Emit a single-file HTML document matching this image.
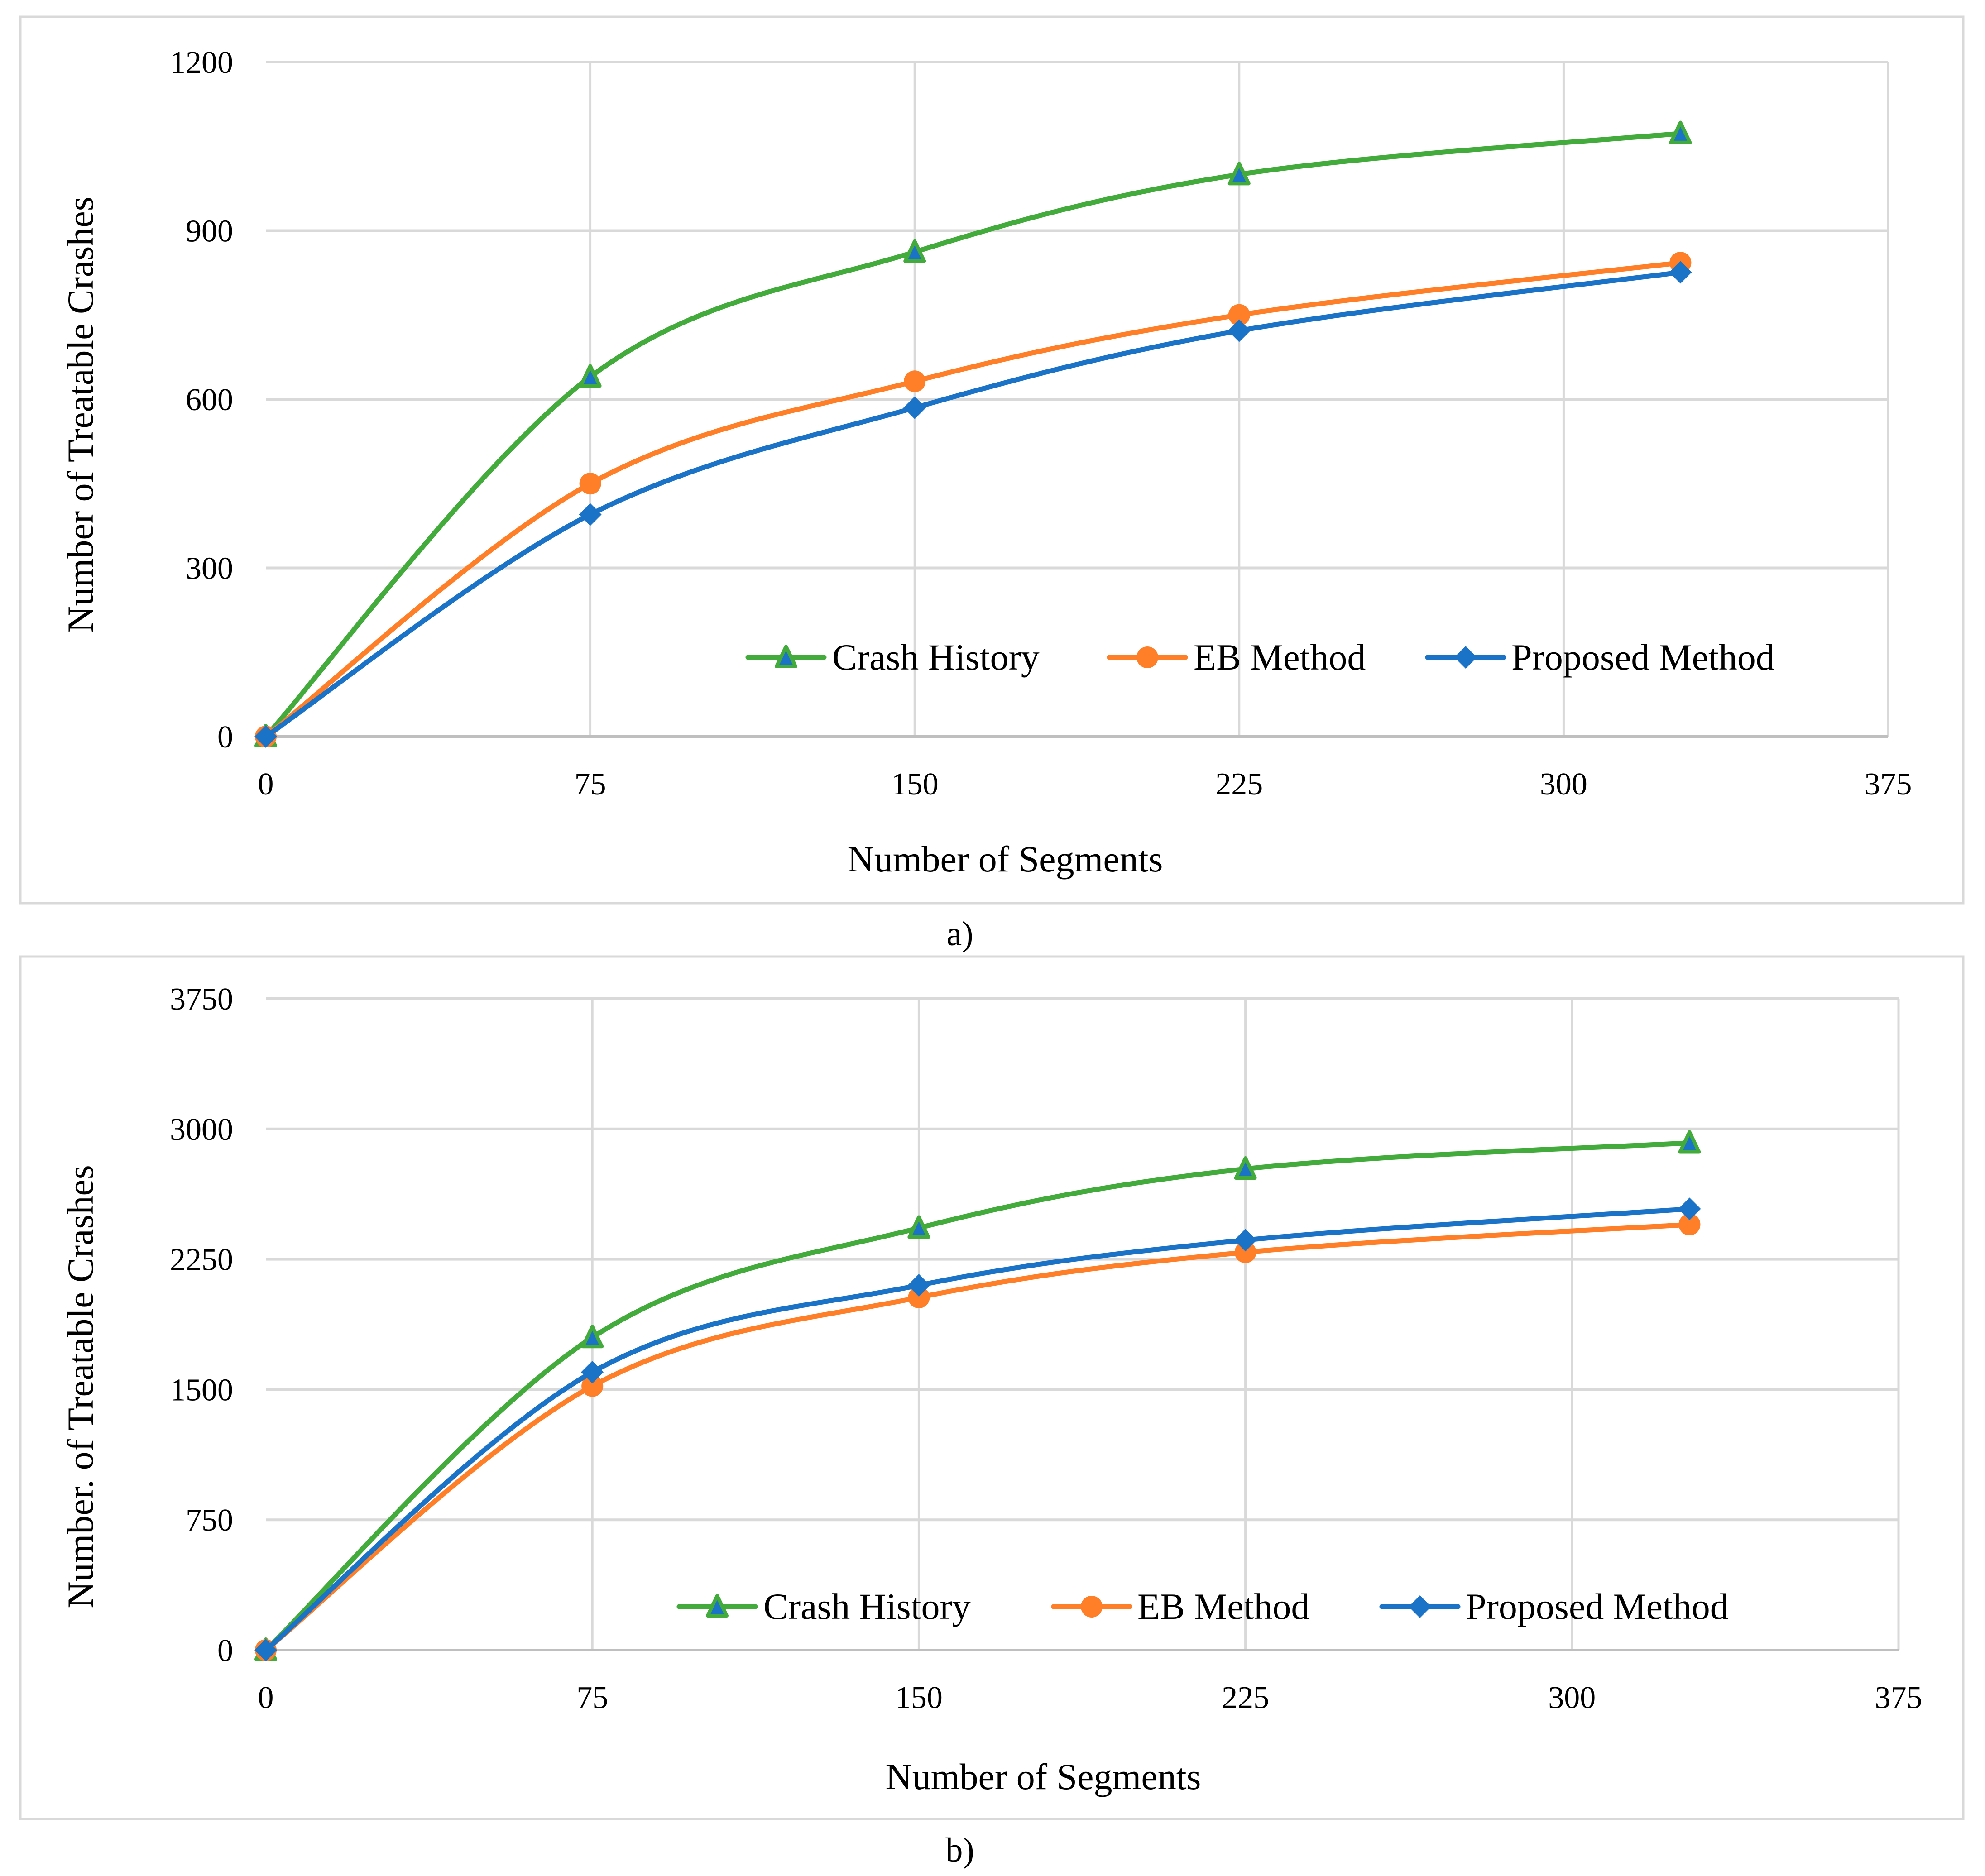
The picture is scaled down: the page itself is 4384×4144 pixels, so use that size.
<!DOCTYPE html>
<html><head><meta charset="utf-8"><style>
html,body{margin:0;padding:0;background:#fff;}
svg{display:block;font-family:"Liberation Serif",serif;}
</style></head><body>
<svg id="root" width="4384" height="4144" viewBox="0 0 4384 4144" xmlns="http://www.w3.org/2000/svg"></svg>
<script>
const xCats=[0,75,150,225,327];
const xTicks=[0,75,150,225,300,375];
const aCrash=[0,640,862,1000,1073];
const aEB=[0,450,632,750,843];
const aProp=[0,395,585,722,826];
const aYTicks=[0,300,600,900,1200];
const bCrash=[0,1800,2430,2770,2920];
const bEB=[0,1520,2030,2290,2450];
const bProp=[0,1600,2100,2360,2540];
const bYTicks=[0,750,1500,2250,3000,3750];
const seriesNames=['Crash History','EB Method','Proposed Method'];

const NS='http://www.w3.org/2000/svg';
const root=document.getElementById('root');
function mk(tag,attrs,parent){const e=document.createElementNS(NS,tag);for(const k in attrs)e.setAttribute(k,attrs[k]);(parent||root).appendChild(e);return e;}
const GREEN='#43ab3c',ORANGE='#fe7f27',BLUE='#1a73c7';

function spline(pts){
  let d='M'+pts[0][0]+','+pts[0][1];
  for(let i=0;i<pts.length-1;i++){
    const p0=pts[Math.max(0,i-1)],p1=pts[i],p2=pts[i+1],p3=pts[Math.min(pts.length-1,i+2)];
    const t=1/6;
    const c1=[p1[0]+(p2[0]-p0[0])*t,p1[1]+(p2[1]-p0[1])*t];
    const c2=[p2[0]-(p3[0]-p1[0])*t,p2[1]-(p3[1]-p1[1])*t];
    d+=' C'+c1[0]+','+c1[1]+' '+c2[0]+','+c2[1]+' '+p2[0]+','+p2[1];
  }
  return d;
}
function marker(g,type,x,y){
  let m;
  if(type==='tri'){m=mk('polygon',{points:(x)+','+(y-24)+' '+(x-21)+','+(y+20)+' '+(x+21)+','+(y+20),fill:BLUE,stroke:GREEN,'stroke-width':8,'stroke-linejoin':'round'},g);}
  else if(type==='circ'){m=mk('circle',{cx:x,cy:y,r:24,fill:ORANGE},g);}
  else {m=mk('polygon',{points:x+','+(y-25)+' '+(x+25)+','+y+' '+x+','+(y+25)+' '+(x-25)+','+y,fill:BLUE},g);}
  return m;
}
function chart(cfg){
  const g=mk('g',{});
  
  
  const box=mk('rect',{x:cfg.box[0],y:cfg.box[1],width:cfg.box[2],height:cfg.box[3],fill:'#fff',stroke:'#d9d9d9','stroke-width':5},g);
  
  
  const ymax=cfg.yTicks[cfg.yTicks.length-1];
  const X=v=>cfg.x0+(v/375)*(cfg.x1-cfg.x0);
  const Y=v=>cfg.y0-(v/ymax)*(cfg.y0-cfg.yTop);
  xTicks.forEach(t=>{
    if(t>0){const l=mk('line',{x1:X(t),y1:cfg.yTop,x2:X(t),y2:cfg.y0,stroke:'#d9d9d9','stroke-width':5},g);
    
    }
    const tx=mk('text',{x:X(t),y:cfg.y0+128,'text-anchor':'middle','font-size':70,fill:'#000'},g);tx.textContent=t;
    
    
  });
  cfg.yTicks.forEach(t=>{
    if(t>0){const l=mk('line',{x1:cfg.x0,y1:Y(t),x2:cfg.x1,y2:Y(t),stroke:'#d9d9d9','stroke-width':6},g);
    
    }
    const tx=mk('text',{x:cfg.x0-72,y:Y(t)+24,'text-anchor':'end','font-size':70,fill:'#000'},g);tx.textContent=t;
    
    
  });
  const ax=mk('line',{x1:cfg.x0,y1:cfg.y0,x2:cfg.x1,y2:cfg.y0,stroke:'#bfbfbf','stroke-width':6},g);
  
  
  const yt=mk('text',{x:0,y:0,transform:'translate('+cfg.ytPos[0]+','+cfg.ytPos[1]+') rotate(-90)','text-anchor':'middle','font-size':82,fill:'#000'},g);yt.textContent=cfg.yTitle;
  
  
  const xt=mk('text',{x:cfg.xtPos[0],y:cfg.xtPos[1],'text-anchor':'middle','font-size':82,fill:'#000'},g);xt.textContent='Number of Segments';
  
  
  const defs=[[cfg.crash,GREEN,'tri','crash-history-series'],[cfg.eb,ORANGE,'circ','eb-method-series'],[cfg.prop,BLUE,'dia','proposed-method-series']];
  cfg.order.forEach(i=>{
    const [vals,col,mt,nm]=defs[i];
    const sg=mk('g',{},g);
    
    
    const pts=vals.map((v,k)=>[X(xCats[k]),Y(v)]);
    const p=mk('path',{d:spline(pts),fill:'none',stroke:col,'stroke-width':11,'stroke-linecap':'round'},sg);
    
    
    pts.forEach(pt=>{const m=marker(sg,mt,pt[0],pt[1]);
      
      });
  });
  const lg=mk('g',{},g);
  
  
  cfg.legend.forEach((le,i)=>{
    const [vals,col,mt]=defs[i];
    const eg=mk('g',{},lg);
    
    
    mk('line',{x1:le[0],y1:cfg.ly,x2:le[0]+168,y2:cfg.ly,stroke:col,'stroke-width':11,'stroke-linecap':'round'},eg);
    marker(eg,mt,le[0]+84,cfg.ly);
    const t=mk('text',{x:le[1],y:cfg.ly+27,'font-size':82,fill:'#000'},eg);t.textContent=seriesNames[i];
  });
  const cap=mk('text',{x:cfg.cap[0],y:cfg.cap[1],'text-anchor':'middle','font-size':76,fill:'#000'});cap.textContent=cfg.capText;
  
  
}
chart({name:'chart-a',box:[45,37,4291,1958],x0:587,x1:4170,y0:1627,yTop:137,yTicks:aYTicks,
  crash:aCrash,eb:aEB,prop:aProp,order:[0,1,2],yTitle:'Number of Treatable Crashes',ytPos:[205,916],xtPos:[2220,1925],
  ly:1452,legend:[[1652,1838],[2450,2636],[3153,3338]],cap:[2120,2088],capText:'a)'});
chart({name:'chart-b',box:[45,2113,4291,1905],x0:587,x1:4193,y0:3645,yTop:2206,yTicks:bYTicks,
  crash:bCrash,eb:bEB,prop:bProp,order:[0,1,2],yTitle:'Number. of Treatable Crashes',ytPos:[205,3063],xtPos:[2304,3952],
  ly:3549,legend:[[1500,1686],[2327,2512],[3052,3237]],cap:[2120,4112],capText:'b)'});
</script>
</body></html>
